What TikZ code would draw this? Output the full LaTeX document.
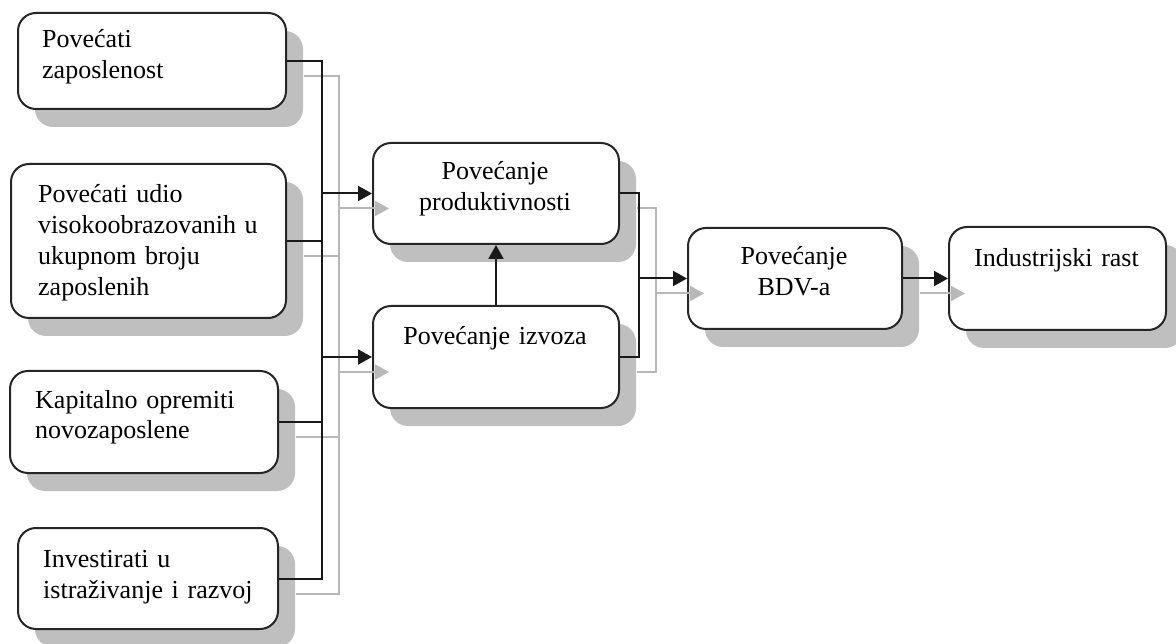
\documentclass[tikz,border=0pt]{standalone}
\usepackage{fontspec}
\setmainfont{Liberation Serif}
\usetikzlibrary{arrows.meta,shadows,calc}
\definecolor{shade}{gray}{0.75}
\definecolor{shline}{gray}{0.72}
\begin{document}
\begin{tikzpicture}[x=1pt,y=-1pt,
  box/.style={draw=black!85, line width=2pt, rounded corners=18pt, fill=white,
    minimum width=#1, inner sep=0pt, anchor=north west,
    drop shadow={shadow xshift=17pt, shadow yshift=-18pt, opacity=1, fill=shade}},
  txt/.style={inner sep=0pt, font=\fontsize{26}{31}\selectfont, text width=#1, align=left, anchor=base west},
  ctxt/.style={inner sep=0pt, font=\fontsize{26}{31}\selectfont, text width=#1, align=center, anchor=base},
  conn/.style={line width=2pt, black!90},
  arr/.style={conn, -{Triangle[length=14pt,width=15pt]}},
  sconn/.style={line width=2pt, shline},
  sarr/.style={sconn, -{Triangle[length=14pt,width=15pt]}},
]
\useasboundingbox (0,0) rectangle (1176,644);

% boxes
\node[box=268pt, minimum height=96pt]  (A)   at (17,12)  {};
\node[box=275pt, minimum height=154pt] (B)   at (10,163) {};
\node[box=268pt, minimum height=102pt] (C)   at (9,370)  {};
\node[box=260pt, minimum height=101pt] (D)   at (17,527) {};
\node[box=246pt, minimum height=101pt] (P)   at (372,142) {};
\node[box=246pt, minimum height=102pt] (I)   at (372,305) {};
\node[box=214pt, minimum height=101pt] (BDV) at (687,227) {};
\node[box=217pt, minimum height=103pt] (R)   at (948,226) {};

% labels
\node[txt=250pt] (tA) at (42,48)  {Povećati\\zaposlenost};
\node[txt=250pt] (tB) at (38,203) {Povećati udio\\visokoobrazovanih u\\ukupnom broju\\zaposlenih};
\node[txt=250pt] (tC) at (35,408) {Kapitalno opremiti\\novozaposlene};
\node[txt=250pt] (tD) at (43,567) {Investirati u\\istraživanje i razvoj};
\node[ctxt=240pt] (tP) at (495,180) {Povećanje\\produktivnosti};
\node[ctxt=240pt] (tI) at (495,345) {Povećanje izvoza};
\node[ctxt=210pt] (tBDV) at (794,265) {Povećanje\\BDV-a};
\node[ctxt=215pt] (tR) at (1056.5,267) {Industrijski rast};

% bus coordinates
\coordinate (bl) at (322,0);
\coordinate (br) at (639,0);
\coordinate (off) at (17,15);

% gray shadow connectors
\draw[sconn] ($(A.east)+(off)$) -| ($(bl |- D.east)+(off)$) -- ($(D.east)+(off)$);
\draw[sconn] ($(B.east)+(off)$) -- ($(bl |- B.east)+(off)$);
\draw[sconn] ($(C.east)+(off)$) -- ($(bl |- C.east)+(off)$);
\draw[sarr] ($(bl |- P.west)+(off)$) -- ($(P.west)+(off)$);
\draw[sarr] ($(bl |- I.west)+(off)$) -- ($(I.west)+(off)$);
\draw[sconn] ($(P.east)+(off)$) -| ($(br |- I.east)+(off)$) -- ($(I.east)+(off)$);
\draw[sarr] ($(br |- BDV.west)+(off)$) -- ($(BDV.west)+(off)$);
\draw[sarr] ($(BDV.east)+(off)$) -- ($(R.west)+(off)$);

% black connectors
\draw[conn] (A.east) -| (bl |- D.east) -- (D.east);
\draw[conn] (B.east) -- (bl |- B.east);
\draw[conn] (C.east) -- (bl |- C.east);
\draw[arr] (bl |- P.west) -- (P.west);
\draw[arr] (bl |- I.west) -- (I.west);
\draw[arr] (I.north) -- (P.south);
\draw[conn] (P.east) -| (br |- I.east) -- (I.east);
\draw[arr] (br |- BDV.west) -- (BDV.west);
\draw[arr] (BDV.east) -- (R.west);
\end{tikzpicture}
\end{document}
